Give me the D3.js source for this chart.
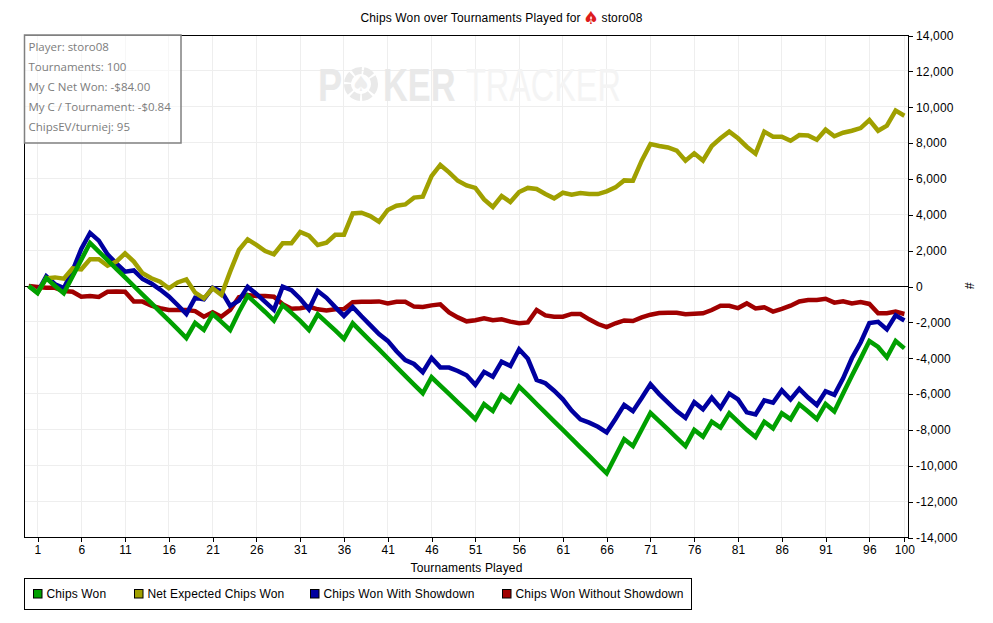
<!DOCTYPE html>
<html>
<head>
<meta charset="utf-8">
<script src="https://cdnjs.cloudflare.com/ajax/libs/d3/7.8.5/d3.min.js"></script>
<style>
  html, body { margin: 0; padding: 0; background: #fff; }
  svg { display: block; }
  text { font-family: "Liberation Sans", Arial, sans-serif; font-size: 12px; fill: #000; letter-spacing: 0.14px; }
  .crisp line, .crisp path, .crisp rect { shape-rendering: crispEdges; }
</style>
</head>
<body>
<svg id="chart" width="993" height="623"></svg>
<script>
// 数据 (index = tournaments played)
const chipsWon = [
  0,-400,440,0,-400,530,1470,2400,
  1920,1440,960,480,0,-480,-960,-1440,-1920,-2400,-2900,
  -2060,-2450,-1570,-2000,-2450,-1450,-550,
  -1000,-1450,-1930,-1060,-1500,-1950,-2450,-1580,-2030,-2480,-2950,-2080,
  -2570,-3060,-3540,-4030,-4520,-5010,-5500,-5980,-5090,
  -5560,-6020,-6490,-6950,-7420,-6590,-6970,-6080,-6450,-5610,
  -6090,-6580,-7060,-7550,-8030,-8510,-9000,-9480,-9970,-10450,
  -9500,-8550,-8930,-8000,-7080,
  -7540,-8000,-8470,-8930,-8030,-8400,-7570,-7900,-7100,
  -7560,-8020,-8420,-7570,-7940,-7100,-7430,-6600,-7000,-7420,
  -6580,-7000,-6000,-5000,-4050,-3070,-3400,-3980,-3070,-3480
];
const netExpected = [
  0,-370,430,480,410,980,930,1490,
  1490,1130,1360,1820,1360,710,430,240,-130,200,370,
  -370,-690,-130,-500,800,2010,2600,
  2290,1950,1770,2380,2380,3010,2810,2290,2420,2860,2860,4050,
  4090,3900,3590,4240,4480,4550,4930,4980,6130,
  6750,6340,5870,5610,5470,4830,4410,5020,4680,5240,
  5470,5410,5130,4890,5200,5090,5190,5130,5130,5280,
  5500,5890,5870,6990,7920,
  7810,7730,7550,6990,7400,7000,7810,8240,8610,
  8240,7770,7380,8610,8330,8330,8100,8420,8400,8160,
  8720,8350,8550,8660,8810,9260,8660,8940,9780,9500
];
const withShowdown = [
  0,-350,540,100,-120,850,2070,2960,
  2530,1760,1260,800,870,390,140,-200,-580,-1060,-1560,
  -660,-740,-100,-290,-1110,-820,-50,
  -440,-890,-1330,-40,-230,-710,-1300,-280,-660,-1180,-1670,-1170,
  -1690,-2180,-2680,-3060,-3640,-4130,-4350,-4810,-4010,
  -4540,-4550,-4740,-4980,-5510,-4790,-5060,-4220,-4460,-3530,
  -4060,-5240,-5420,-5840,-6320,-6950,-7440,-7620,-7850,-8160,
  -7420,-6630,-6980,-6250,-5480,
  -6030,-6510,-6980,-7350,-6480,-6880,-6230,-6800,-6000,
  -6330,-7050,-7170,-6380,-6510,-5820,-6330,-5740,-6220,-6640,
  -5870,-6070,-5150,-4030,-3150,-2070,-2000,-2420,-1640,-1920
];
const withoutShowdown = [
  0,-50,-100,-100,-280,-320,-600,-560,
  -610,-320,-300,-320,-870,-870,-1100,-1240,-1340,-1340,-1340,
  -1400,-1710,-1470,-1710,-1340,-630,-500,
  -560,-560,-600,-1020,-1270,-1240,-1150,-1300,-1370,-1300,-1280,-910,
  -880,-880,-860,-970,-880,-880,-1150,-1170,-1080,
  -1020,-1470,-1750,-1970,-1910,-1800,-1910,-1860,-1990,-2080,
  -2030,-1340,-1640,-1710,-1710,-1560,-1560,-1860,-2120,-2290,
  -2080,-1920,-1950,-1750,-1600,
  -1510,-1490,-1490,-1580,-1550,-1520,-1340,-1100,-1100,
  -1230,-970,-1250,-1190,-1430,-1280,-1100,-860,-780,-780,
  -710,-930,-850,-970,-900,-1000,-1520,-1520,-1430,-1560
];
const xTicks = [1,6,11,16,21,26,31,36,41,46,51,56,61,66,71,76,81,86,91,96,100];
const yTicks = [14000,12000,10000,8000,6000,4000,2000,0,-2000,-4000,-6000,-8000,-10000,-12000,-14000];
const infoLines = ["Player: storo08", "Tournaments: 100", "My C Net Won: -$84.00", "My C / Tournament: -$0.84", "ChipsEV/turniej: 95"];

const seriesNames = ["Chips Won", "Net Expected Chips Won", "Chips Won With Showdown", "Chips Won Without Showdown"];
const seriesColors = ["#00a000", "#a0a000", "#0000a0", "#a00000"];
const seriesValues = [chipsWon, netExpected, withShowdown, withoutShowdown];
const legendSwatchX = [33, 134, 310, 502];

const plotLeft = 24, plotRight = 908, plotTop = 35, plotBottom = 537;

const svg = d3.select("#chart");

const x = d3.scaleLinear().domain([1, 100]).range([37.5, 904.4]);
const y = d3.scaleLinear().domain([-14000, 14000]).range([plotBottom, plotTop]);

// grid
const grid = svg.append("g").attr("class", "crisp");
grid.selectAll("line.v").data(xTicks).enter().append("line")
    .attr("class", "v")
    .attr("x1", d => x(d)).attr("x2", d => x(d))
    .attr("y1", plotTop).attr("y2", plotBottom)
    .attr("stroke", "#eeeeee");
grid.selectAll("line.h").data(yTicks).enter().append("line")
    .attr("class", "h")
    .attr("x1", plotLeft).attr("x2", plotRight)
    .attr("y1", d => y(d)).attr("y2", d => y(d))
    .attr("stroke", "#eeeeee");

// watermark, squeezed horizontally to the logo's narrow letters
const mark = svg.append("g");
function markText(str, left, sx, weight, color) {
  mark.append("text").text(str)
      .attr("transform", `translate(${left},101) scale(${sx},1)`)
      .style("font-size", "47px").style("letter-spacing", "0")
      .style("font-weight", weight).style("fill", color);
}
markText("P", 318, 0.77, "bold", "#e9e9e9");
mark.append("circle").attr("cx", 361).attr("cy", 84).attr("r", 13.5)
    .attr("fill", "none").attr("stroke", "#e9e9e9").attr("stroke-width", 7)
    .attr("stroke-dasharray", "9 2");
mark.append("text").text("\u2660").attr("x", 361).attr("y", 91).attr("text-anchor", "middle")
    .style("font-family", "DejaVu Sans").style("font-size", "21px").style("fill", "#ededed");
markText("KER", 383, 0.73, "bold", "#e9e9e9");
markText("TRACKER", 466, 0.69, "normal", "#f4f4f4");

// 零线 and frame
svg.append("line").attr("class", "zero")
    .attr("x1", plotLeft).attr("x2", plotRight)
    .attr("y1", y(0) + 0.5).attr("y2", y(0) + 0.5)
    .attr("stroke", "#000");

// lines, last series drawn first so Chips Won ends on top
const line = d3.line().x((d, i) => x(i)).y(d => y(d));
const drawOrder = [3, 2, 1, 0];
svg.append("g").selectAll("path")
    .data(drawOrder).enter().append("path")
    .attr("d", k => line(seriesValues[k]))
    .attr("fill", "none")
    .attr("stroke", k => seriesColors[k])
    .attr("stroke-width", 4.5)
    .attr("stroke-linejoin", "miter");

svg.append("rect").attr("class", "frame")
    .attr("x", plotLeft + 0.5).attr("y", plotTop + 0.5)
    .attr("width", plotRight - plotLeft).attr("height", plotBottom - plotTop)
    .attr("fill", "none").attr("stroke", "#000");

// axes
const xAxis = d3.axisBottom(x).tickValues(xTicks).tickSize(5).tickPadding(3).tickFormat(d3.format("d"));
const yAxis = d3.axisRight(y).tickValues(yTicks).tickSize(5).tickPadding(3)
    .tickFormat(d => d3.format(",")(d).replace("\u2212", "-"));

const gx = svg.append("g").attr("class", "crisp").attr("transform", `translate(0,${plotBottom})`).call(xAxis);
const gy = svg.append("g").attr("class", "crisp").attr("transform", `translate(${plotRight},0.5)`).call(yAxis);
gx.select(".domain").remove();
gy.select(".domain").remove();
[gx, gy].forEach(g => {
  g.selectAll("text").style("font-family", '"Liberation Sans", Arial, sans-serif').style("font-size", "12px").attr("fill", "#000");
  g.selectAll("line").attr("stroke", "#000");
});

// titles
svg.append("text").attr("class", "title").text("Chips Won over Tournaments Played for")
    .attr("x", 360.5).attr("y", 22);
svg.append("text").text("\u2660").attr("x", 591).attr("y", 24).attr("text-anchor", "middle")
    .style("font-family", "DejaVu Sans").style("font-size", "18px").style("fill", "#dd1c1c");
svg.append("path")
    .attr("d", d3.symbol().type(d3.symbolDiamond).size(6)())
    .attr("transform", "translate(591,18)").attr("fill", "#ffd0d0");
svg.append("text").text("storo08").attr("x", 601.5).attr("y", 22);

svg.append("text").text("Tournaments Played")
    .attr("x", 466.5).attr("y", 571.5).attr("text-anchor", "middle");
svg.append("text").text("#")
    .attr("transform", "translate(965,286) rotate(90)").attr("text-anchor", "middle");

// info box
svg.append("rect")
    .attr("x", 24.5).attr("y", 35).attr("width", 156.5).attr("height", 108)
    .attr("fill", "#fff").attr("fill-opacity", 0.5)
    .attr("stroke", "#808080").attr("stroke-width", 1.5);
svg.append("g").selectAll("text")
    .data(infoLines).enter().append("text")
    .text(d => d)
    .attr("x", 28.5)
    .attr("y", (d, i) => 51 + i * 20)
    .style("font-family", '"Open Sans", "Noto Sans", sans-serif')
    .style("font-size", "11.5px")
    .style("letter-spacing", "0")
    .style("fill", "#7c7c7c");

// legend
svg.append("rect").attr("class", "legend-box")
    .attr("x", 24.5).attr("y", 578.5).attr("width", 667).attr("height", 31)
    .attr("fill", "#fff").attr("stroke", "#000");
const legend = svg.append("g").selectAll("g")
    .data(seriesNames).enter().append("g")
    .attr("transform", (d, i) => `translate(${legendSwatchX[i]},589)`);
legend.append("rect")
    .attr("x", 0.5).attr("y", 0.5).attr("width", 8.5).attr("height", 8.5)
    .attr("fill", (d, i) => seriesColors[i]).attr("stroke", "#000");
legend.append("text").text(d => d).attr("x", 13.5).attr("y", 8.5);
</script>
</body>
</html>
